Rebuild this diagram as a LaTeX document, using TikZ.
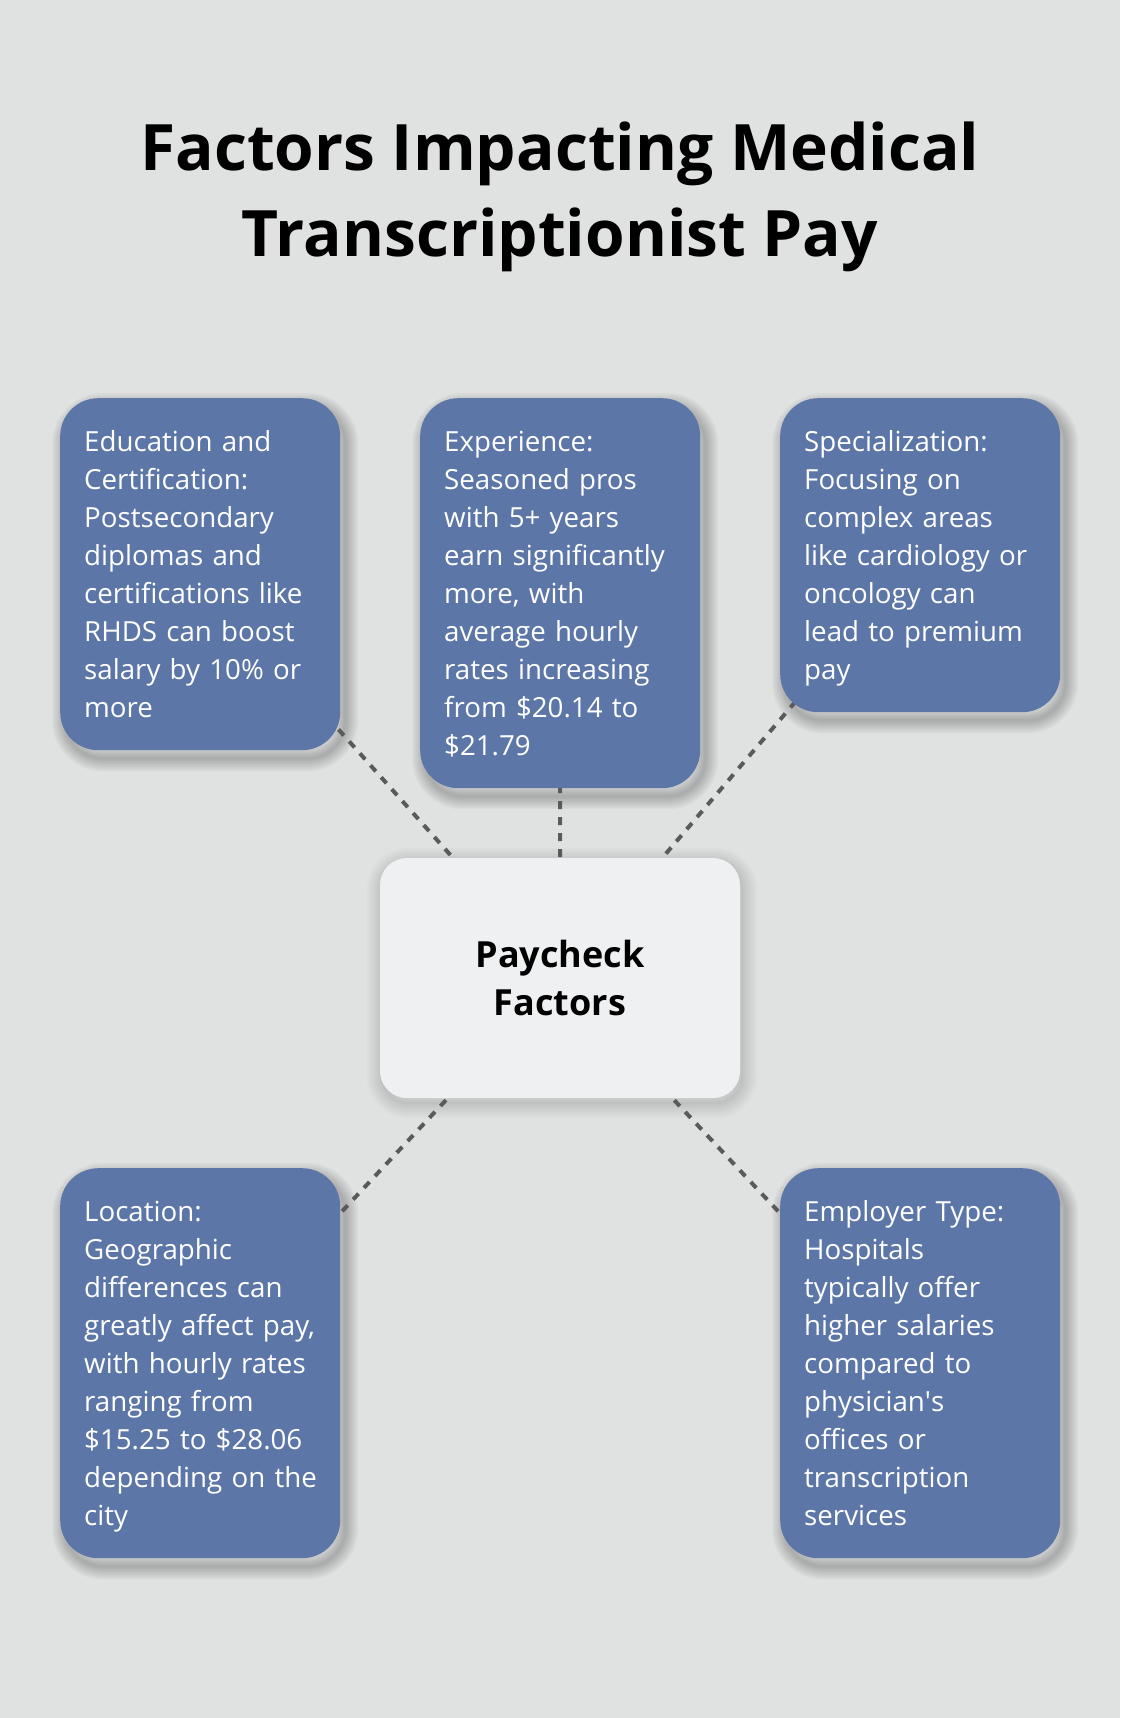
\documentclass[tikz,border=0pt]{standalone}
\usepackage{fontspec}
\setmainfont{Open Sans}
\definecolor{bgcol}{RGB}{224,226,225}
\definecolor{boxblue}{RGB}{92,118,168}
\definecolor{hubfill}{RGB}{239,240,242}
\definecolor{linegray}{RGB}{90,90,90}
\pgfdeclarelayer{canvas}
\pgfdeclarelayer{shadow}
\pgfdeclarelayer{links}
\pgfsetlayers{canvas,shadow,links,main}
\tikzset{
  factor/.style={fill=boxblue, rounded corners=38pt, text=white,
    text width=232pt, align=left, inner xsep=24pt, inner ysep=9.5pt,
    anchor=north west, font=\fontsize{27.7}{38}\selectfont},
  hub/.style={fill=hubfill, rounded corners=27pt, text=black,
    minimum width=360pt, minimum height=240pt, align=center, inner sep=0pt,
    font=\fontsize{36}{48}\selectfont\bfseries},
  titletext/.style={anchor=base, text=black, inner sep=0pt,
    font=\fontsize{64}{86}\selectfont\bfseries},
  link/.style={draw=linegray, line width=4pt, dash pattern=on 8pt off 8pt},
  shadowring/.style={draw=black, line width=#1pt, opacity=0.028}
}
\newcommand{\firststrut}{\rightskip=0pt plus 1fil minus 40pt\relax\rule{0pt}{44pt}}
\newcommand{\laststrut}{\rule[-23pt]{0pt}{0pt}}
\begin{document}
\begin{tikzpicture}[x=1pt,y=-1pt]
\useasboundingbox (0,0) rectangle (1120,1718);

\node[titletext] (title1) at (560,170) {Factors Impacting Medical};
\node[titletext] (title2) at (560,256) {Transcriptionist Pay};

\node[factor] (edu) at (60,398) {\firststrut Education and\\ Certification:\\ Postsecondary\\ diplomas and\\ certifications like\\ RHDS can boost\\ salary by 10\% or\\ more\laststrut};
\node[factor] (exp) at (420,398) {\firststrut Experience:\\ Seasoned pros\\ with 5+ years\\ earn significantly\\ more, with\\ average hourly\\ rates increasing\\ from \$20.14 to\\ \$21.79\laststrut};
\node[factor] (spec) at (780,398) {\firststrut Specialization:\\ Focusing on\\ complex areas\\ like cardiology or\\ oncology can\\ lead to premium\\ pay\laststrut};
\node[factor] (loc) at (60,1168) {\firststrut Location:\\ Geographic\\ differences can\\ greatly affect pay,\\ with hourly rates\\ ranging from\\ \$15.25 to \$28.06\\ \mbox{depending on the}\\ city\laststrut};
\node[factor] (emp) at (780,1168) {\firststrut Employer Type:\\ Hospitals\\ typically offer\\ higher salaries\\ compared to\\ physician\textquotesingle s\\ offices or\\ transcription\\ services\laststrut};

\node[hub] (hub) at (560,978) {Paycheck\\Factors};

\begin{pgfonlayer}{canvas}
  \fill[bgcol] (0,0) rectangle (1120,1718);
\end{pgfonlayer}

\begin{pgfonlayer}{shadow}
  \foreach \n in {edu,exp,spec,loc,emp}{
    \foreach \w in {2,5,...,26}{
      \draw[shadowring=\w, rounded corners=38pt]
        ([shift={(5,8)}]\n.north west) rectangle ([shift={(5,8)}]\n.south east);
    }
  }
  \foreach \w in {2,6,...,30}{
    \draw[shadowring=\w, opacity=0.016, rounded corners=27pt]
      ([shift={(2,5)}]hub.north west) rectangle ([shift={(2,5)}]hub.south east);
  }
\end{pgfonlayer}

\begin{pgfonlayer}{links}
  \draw[link] (edu.center) -- (hub.center);
  \draw[link] (exp.center) -- (hub.center);
  \draw[link] (spec.center) -- (hub.center);
  \draw[link] (loc.center) -- (hub.center);
  \draw[link] (emp.center) -- (hub.center);
\end{pgfonlayer}
\end{tikzpicture}
\end{document}
